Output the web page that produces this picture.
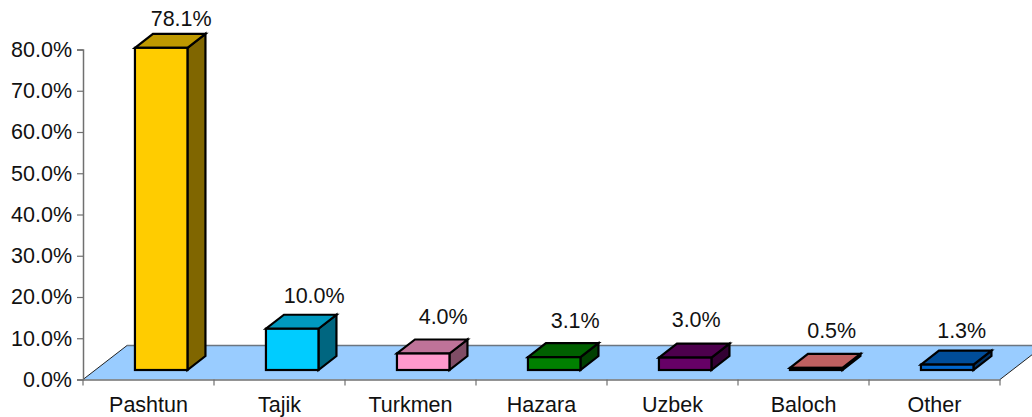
<!DOCTYPE html>
<html>
<head>
<meta charset="utf-8">
<script src="https://cdn.jsdelivr.net/npm/d3@7"></script>
<style>
  html, body { margin: 0; padding: 0; background: #fff; overflow: hidden; }
  text { font-family: "Liberation Sans", Arial, sans-serif; fill: #111; }
</style>
</head>
<body>
<div id="chart"></div>
<script>
const groups = ['Pashtun', 'Tajik', 'Turkmen', 'Hazara', 'Uzbek', 'Baloch', 'Other']
const shares = [78.1, 10.0, 4.0, 3.1, 3.0, 0.5, 1.3]
const yTicks = [0, 10, 20, 30, 40, 50, 60, 70, 80]
const barColors = ['#ffcc00', '#00ccff', '#ff99cc', '#008000', '#660066', '#ff8080', '#0066cc']

// labels were dragged by hand in the original, so each one has its own nudge
const labelNudge = {
  Pashtun: [20, -8],
  Tajik: [22, -12],
  Turkmen: [20, -16],
  Hazara: [21, -15],
  Uzbek: [11, -17],
  Baloch: [15.5, -16],
  Other: [14.5, -13]
}

const width = 1032
const height = 417
const fontSize = 21.5

const plot = { left: 83, right: 1000, top: 49.5, bottom: 379.5 }
const floorDepth = { x: 44, y: -34 }
const barDepth = { x: 18, y: -14 }
const barLift = { x: 12.7, y: -9.5 }
const barWidth = 52.5

const svg = d3
  .select('#chart')
  .append('svg')
  .attr('width', width)
  .attr('height', height)
  .style('display', 'block')

const xScale = d3
  .scaleBand()
  .domain(groups)
  .range([plot.left, plot.right])

const yScale = d3
  .scaleLinear()
  .domain([0, 80])
  .range([plot.bottom, plot.top])

const poly = points => 'M' + points.map(p => p.join(',')).join('L') + 'Z'

// floor
svg
  .append('path')
  .attr('d', poly([
    [plot.left, plot.bottom],
    [plot.right, plot.bottom],
    [plot.right + floorDepth.x, plot.bottom + floorDepth.y],
    [plot.left + floorDepth.x, plot.bottom + floorDepth.y]
  ]))
  .attr('fill', '#99ccff')
  .attr('stroke', 'none')

svg
  .append('line')
  .attr('x1', plot.left + floorDepth.x)
  .attr('x2', plot.right + floorDepth.x)
  .attr('y1', plot.bottom + floorDepth.y)
  .attr('y2', plot.bottom + floorDepth.y)
  .attr('stroke', '#6b7580')
  .attr('stroke-width', 1.5)

svg
  .append('line')
  .attr('x1', plot.left)
  .attr('x2', plot.left + floorDepth.x)
  .attr('y1', plot.bottom)
  .attr('y2', plot.bottom + floorDepth.y)
  .attr('stroke', '#222')
  .attr('stroke-width', 1)

svg
  .append('line')
  .attr('x1', plot.right)
  .attr('x2', plot.right + floorDepth.x)
  .attr('y1', plot.bottom)
  .attr('y2', plot.bottom + floorDepth.y)
  .attr('stroke', '#222')
  .attr('stroke-width', 1)

// axes
const yAxis = d3
  .axisLeft(yScale)
  .tickValues(yTicks)
  .tickSize(6)
  .tickPadding(5)
  .tickFormat(d => d3.format('.1f')(d) + '%')

const xAxis = d3
  .axisBottom(xScale)
  .tickSize(0)
  .tickPadding(17)

const yG = svg
  .append('g')
  .attr('transform', `translate(${plot.left},0)`)
  .call(yAxis)

const xG = svg
  .append('g')
  .attr('transform', `translate(0,${plot.bottom})`)
  .call(xAxis)

xG
  .selectAll('.sep')
  .data(d3.range(groups.length + 1))
  .enter()
  .append('line')
  .attr('class', 'sep')
  .attr('x1', i => plot.left + i * xScale.step())
  .attr('x2', i => plot.left + i * xScale.step())
  .attr('y1', 0)
  .attr('y2', 6)

svg.selectAll('.domain').attr('stroke', '#707070').attr('stroke-width', 1.5)
svg.selectAll('.tick line, .sep').attr('stroke', '#707070').attr('stroke-width', 1.2)
svg.selectAll('.tick text').style('font-size', fontSize + 'px').attr('fill', '#111')

// bars
const rows = groups.map((name, i) => ({ name, share: shares[i], color: barColors[i] }))

const bars = svg
  .selectAll('.bar')
  .data(rows)
  .enter()
  .append('g')
  .attr('class', 'bar')
  .attr('stroke', '#000')
  .attr('stroke-width', 2.2)
  .attr('stroke-linejoin', 'miter')

const x0 = d => xScale(d.name) + xScale.bandwidth() / 2 + barLift.x - barWidth / 2
const x1 = d => x0(d) + barWidth
const yBase = plot.bottom + barLift.y
const yTop = d => yScale(d.share) + barLift.y

bars
  .append('path')
  .attr('d', d => poly([
    [x1(d), yTop(d)],
    [x1(d) + barDepth.x, yTop(d) + barDepth.y],
    [x1(d) + barDepth.x, yBase + barDepth.y],
    [x1(d), yBase]
  ]))
  .attr('fill', d => d3.interpolateRgb(d.color, '#000')(0.5))

bars
  .append('path')
  .attr('d', d => poly([
    [x0(d), yTop(d)],
    [x1(d), yTop(d)],
    [x1(d) + barDepth.x, yTop(d) + barDepth.y],
    [x0(d) + barDepth.x, yTop(d) + barDepth.y]
  ]))
  .attr('fill', d => d3.interpolateRgb(d.color, '#000')(0.25))

bars
  .append('rect')
  .attr('x', x0)
  .attr('y', yTop)
  .attr('width', barWidth)
  .attr('height', d => yBase - yTop(d))
  .attr('fill', d => d.color)

// value labels
svg
  .selectAll('.value-label')
  .data(rows)
  .enter()
  .append('text')
  .attr('class', 'value-label')
  .attr('text-anchor', 'middle')
  .attr('x', d => (x0(d) + x1(d)) / 2 + labelNudge[d.name][0])
  .attr('y', d => yTop(d) + barDepth.y + labelNudge[d.name][1])
  .style('font-size', fontSize + 'px')
  .text(d => d3.format('.1f')(d.share) + '%')
</script>
</body>
</html>
